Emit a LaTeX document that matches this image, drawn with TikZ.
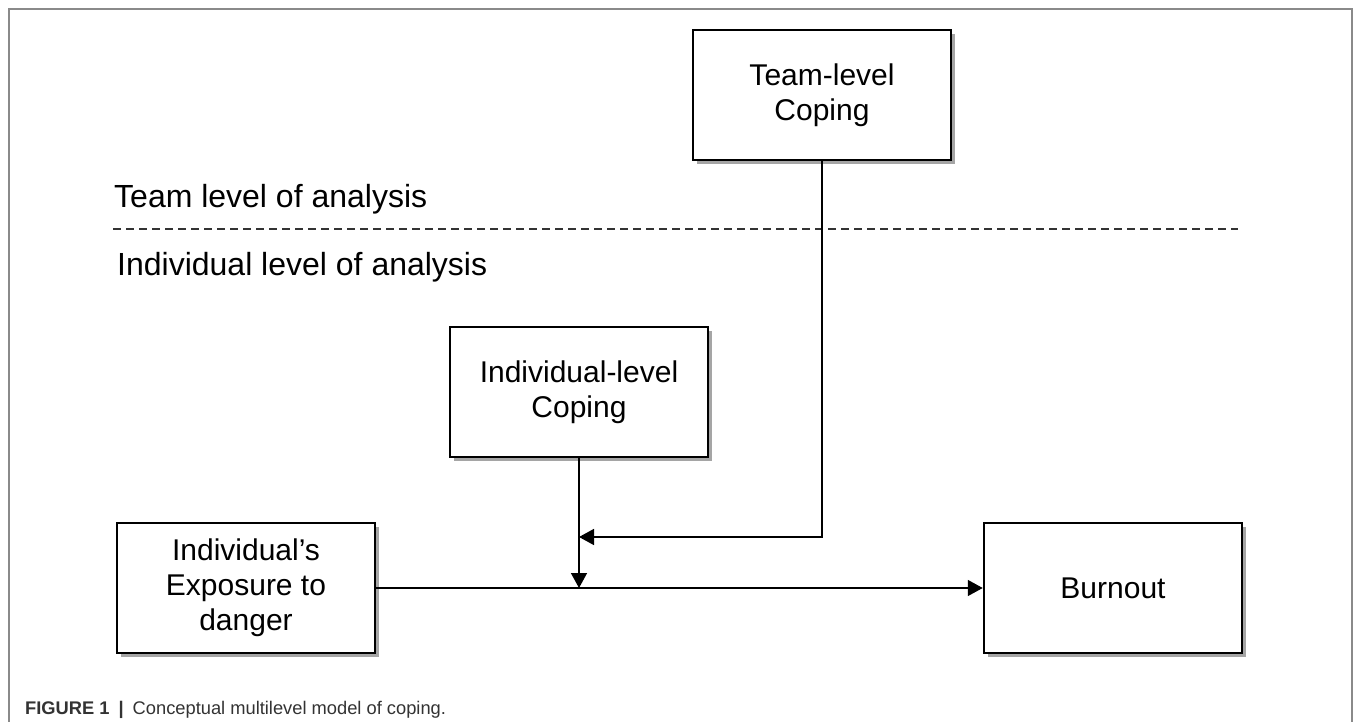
\documentclass[tikz,border=0pt]{standalone}
\usepackage{fontspec}
\setmainfont{Liberation Sans}
\usetikzlibrary{arrows.meta,shadows}
\definecolor{capgray}{HTML}{333333}
\definecolor{framegray}{HTML}{8A8A8A}
\tikzset{
  box/.style={draw=black, line width=2.5pt, fill=white, minimum width=258pt,
    minimum height=130pt, align=center, inner sep=0pt,
    font=\fontsize{30}{35}\selectfont,
    drop shadow={shadow xshift=4pt, shadow yshift=-4pt, fill=black!50, opacity=0.7}},
  arr/.style={line width=1.5pt, -{Triangle[length=15pt,width=16pt]}},
  lvl/.style={anchor=base west, inner sep=0pt, font=\fontsize{32}{36}\selectfont},
}
\begin{document}
\begin{tikzpicture}[x=1pt,y=-1pt]
\useasboundingbox (0,0) rectangle (1355,722);
\fill[white] (0,0) rectangle (1355,722);
\draw[framegray, line width=1.5pt] (9,722) -- (9,9) -- (1352,9) -- (1352,722);

\node[box] (tc) at (822,95) {Team-level\\Coping};
\node[box] (ic) at (579,392) {Individual-level\\Coping};
\node[box] (ex) at (246,588) {Individual's\\Exposure to\\danger};
\node[box] (bo) at (1113,588) {Burnout};

\node[lvl] (tl) at (114,208) {Team level of analysis};
\node[lvl] (il) at (117,276) {Individual level of analysis};
\coordinate (dl) at (113,229);
\coordinate (dr) at (1238,229);
\draw[line width=1.3pt, dash pattern=on 8pt off 5pt, black!80] (dl) -- (dr);

\coordinate (mid) at (579,588);
\coordinate (tj) at (579,537);
\draw[arr] (ex.east) -- (bo.west);
\draw[arr] (ic.south) -- (mid);
\draw[arr] (tc.south) |- (tj);

\node[anchor=base west, inner sep=0pt, font=\fontsize{18.3}{20}\selectfont, text=capgray] (cap) at (25,714)
  {\textbf{FIGURE 1}\hspace{9pt}\textbf{|}\hspace{9pt}Conceptual multilevel model of coping.};
\end{tikzpicture}
\end{document}
